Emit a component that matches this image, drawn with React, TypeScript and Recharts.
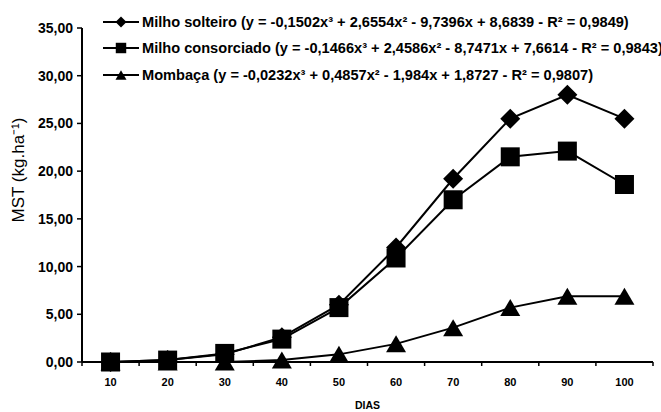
import { LineChart, Line, XAxis, YAxis, Legend } from 'recharts';

const FONT = '"Liberation Sans", Arial, sans-serif';

const DIAS = [10, 20, 30, 40, 50, 60, 70, 80, 90, 100];
const MILHO_SOLTEIRO = [0, 0.2, 0.8, 2.6, 6.0, 12.0, 19.2, 25.5, 28.0, 25.5];
const MILHO_CONSORCIADO = [0, 0.2, 0.9, 2.4, 5.7, 10.9, 17.0, 21.5, 22.1, 18.6];
const MOMBACA = [0, 0, 0, 0.2, 0.8, 1.9, 3.6, 5.7, 6.9, 6.9];
const Y_TICKS = [0, 5, 10, 15, 20, 25, 30, 35];

const SERIES = ['solteiro', 'consorciado', 'mombaca'];
const NAMES: Record<string, string> = {
  solteiro: 'Milho solteiro (y = -0,1502x³ + 2,6554x² - 9,7396x + 8,6839 - R² = 0,9849)',
  consorciado: 'Milho consorciado (y = -0,1466x³ + 2,4586x² - 8,7471x + 7,6614 - R² = 0,9843)',
  mombaca: 'Mombaça (y = -0,0232x³ + 0,4857x² - 1,984x + 1,8727 - R² = 0,9807)',
};

const data = DIAS.map((dia, i) => ({
  dia,
  solteiro: MILHO_SOLTEIRO[i],
  consorciado: MILHO_CONSORCIADO[i],
  mombaca: MOMBACA[i],
}));

// category boundaries (tick marks) plus category centres (labels)
const X_TICKS = [DIAS[0] - 5, ...DIAS.flatMap((d) => [d, d + 5])];

type Shape = 'diamond' | 'square' | 'triangle';
const SHAPES: Record<string, Shape> = { solteiro: 'diamond', consorciado: 'square', mombaca: 'triangle' };

function Marker({ cx, cy, shape, s }: { cx: number; cy: number; shape: Shape; s: number }) {
  if (shape === 'diamond') {
    return <polygon points={`${cx},${cy - s} ${cx + s},${cy} ${cx},${cy + s} ${cx - s},${cy}`} fill="#000" />;
  }
  if (shape === 'square') {
    const h = s * 0.95;
    return <rect x={cx - h} y={cy - h} width={h * 2} height={h * 2} fill="#000" />;
  }
  const h = s * 0.85;
  return <polygon points={`${cx},${cy - h} ${cx + s},${cy + h} ${cx - s},${cy + h}`} fill="#000" />;
}

const dotFor = (shape: Shape) => (p: any) =>
  p.cx == null ? <g key={`e-${p.index}`} /> : <Marker key={`${shape}-${p.index}`} cx={p.cx} cy={p.cy} shape={shape} s={10} />;

const XTick = ({ x, y, payload }: any) => {
  if (payload.value % 10 !== 0) {
    return <line x1={x} y1={y} x2={x} y2={y + 4} stroke="#000" strokeWidth={1.5} />;
  }
  return (
    <text x={x} y={y + 20} textAnchor="middle" dominantBaseline="central" fontFamily={FONT} fontSize={11} fontWeight="bold" fill="#000">
      {payload.value}
    </text>
  );
};

const renderLegend = ({ payload }: any) => {
  const items = [...(payload || [])].sort((a: any, b: any) => SERIES.indexOf(a.dataKey) - SERIES.indexOf(b.dataKey));
  return (
    <div style={{ fontFamily: FONT, fontWeight: 'bold', fontSize: 14.6, color: '#000' }}>
      {items.map((entry: any) => (
        <div key={entry.dataKey} style={{ display: 'flex', alignItems: 'center', height: 26.5, whiteSpace: 'nowrap' }}>
          <svg width={36} height={14} style={{ flex: 'none' }}>
            <line x1={0} y1={7} x2={36} y2={7} stroke="#000" strokeWidth={2} />
            <Marker cx={18} cy={7} shape={SHAPES[entry.dataKey]} s={5.5} />
          </svg>
          <span style={{ marginLeft: 3 }}>{entry.value}</span>
        </div>
      ))}
    </div>
  );
};

export default function App() {
  return (
    <div style={{ width: 661, height: 412, background: '#fff', overflow: 'hidden' }}>
      <style>{'body{margin:0}'}</style>
      <LineChart width={661} height={412} data={data} margin={{ top: 28, right: 8, bottom: 0, left: 0 }}>
        <XAxis
          dataKey="dia"
          type="number"
          domain={[5, 105]}
          ticks={X_TICKS}
          interval={0}
          height={50}
          tickSize={0}
          tickMargin={0}
          tickLine={false}
          axisLine={{ stroke: '#000', strokeWidth: 2 }}
          tick={<XTick />}
          label={({ viewBox }: any) => (
            <text x={viewBox.x + viewBox.width / 2} y={viewBox.y + 43} textAnchor="middle" dominantBaseline="central" fontFamily={FONT} fontSize={10.5} fontWeight="bold" fill="#000">
              DIAS
            </text>
          )}
        />
        <YAxis
          type="number"
          domain={[0, 35]}
          ticks={Y_TICKS}
          interval={0}
          width={82}
          tickSize={5}
          tickMargin={4}
          tickLine={{ stroke: '#000', strokeWidth: 1.5 }}
          axisLine={{ stroke: '#000', strokeWidth: 2 }}
          tick={{ fontFamily: FONT, fontSize: 14, fontWeight: 'bold', fill: '#000' }}
          tickFormatter={(v: number) => v.toFixed(2).replace('.', ',')}
          label={({ viewBox }: any) => {
            const x = viewBox.x + 18;
            const y = viewBox.y + viewBox.height / 2 - 25;
            return (
              <text x={x} y={y} transform={`rotate(-90, ${x}, ${y})`} textAnchor="middle" dominantBaseline="central" fontFamily={FONT} fontSize={17} fill="#000">
                MST (kg.ha⁻¹)
              </text>
            );
          }}
        />
        <Legend
          layout="horizontal"
          align="center"
          verticalAlign="middle"
          content={renderLegend}
          wrapperStyle={{ top: 8.5, left: 103, width: 600 }}
        />
        <Line dataKey="solteiro" name={NAMES.solteiro} stroke="#000" strokeWidth={2} dot={dotFor('diamond')} activeDot={false} isAnimationActive={false} />
        <Line dataKey="consorciado" name={NAMES.consorciado} stroke="#000" strokeWidth={2} dot={dotFor('square')} activeDot={false} isAnimationActive={false} />
        <Line dataKey="mombaca" name={NAMES.mombaca} stroke="#000" strokeWidth={2} dot={dotFor('triangle')} activeDot={false} isAnimationActive={false} />
      </LineChart>
    </div>
  );
}
